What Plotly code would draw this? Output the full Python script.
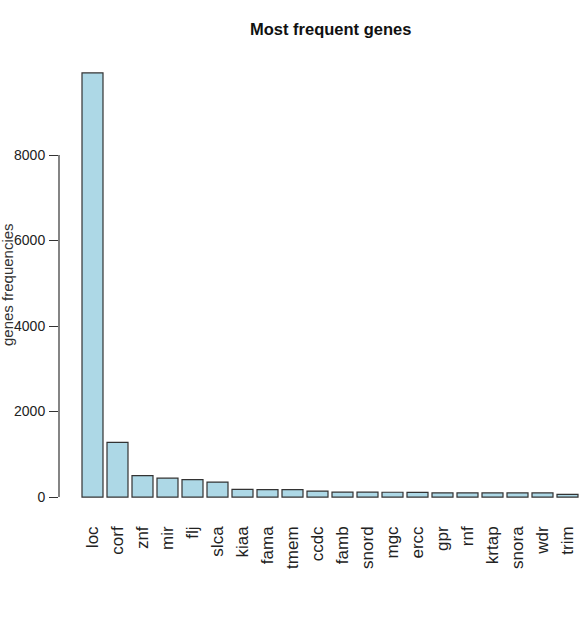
import plotly.graph_objects as go

genes = ["loc", "corf", "znf", "mir", "flj", "slca", "kiaa", "fama", "tmem", "ccdc",
         "famb", "snord", "mgc", "ercc", "gpr", "rnf", "krtap", "snora", "wdr", "trim"]
freqs = [9920, 1280, 500, 440, 405, 350, 180, 175, 175, 140,
         115, 115, 112, 110, 98, 97, 96, 95, 95, 62]
y_ticks = [0, 2000, 4000, 6000, 8000]

positions = list(range(len(genes)))

W, H = 587, 620
L, R, T, B = 59, 0, 56, 106

regular = "Liberation Sans, Arial, sans-serif"

fig = go.Figure()
fig.add_trace(go.Bar(
    x=positions, y=freqs, width=0.84,
    marker=dict(color="#ADD8E6", line=dict(color="#333333", width=1.2)),
))

fig.update_layout(
    width=W, height=H,
    margin=dict(l=L, r=R, t=T, b=B, pad=0),
    paper_bgcolor="white", plot_bgcolor="white",
    showlegend=False,
    xaxis=dict(
        range=[-1.34, 19.78], tickmode="array", tickvals=positions, ticktext=genes,
        tickangle=-90, showgrid=False, zeroline=False, showline=False,
        ticks="", ticklabelstandoff=8,
        tickfont=dict(family=regular, size=17, color="#222222"),
    ),
    yaxis=dict(
        range=[-397, 10317], tickmode="array", tickvals=y_ticks,
        ticktext=[str(v) for v in y_ticks],
        showgrid=False, zeroline=False, showline=False,
        ticks="outside", ticklen=9, tickwidth=1.2, tickcolor="#333333",
        ticklabelstandoff=1,
        tickfont=dict(family=regular, size=14, color="#222222"),
    ),
)

# y axis line only between first and last tick (R style)
fig.add_shape(type="line", xref="paper", yref="y", x0=0, x1=0,
              y0=y_ticks[0], y1=y_ticks[-1], line=dict(color="#333333", width=1.2))

plot_w = W - L - R
plot_h = H - T - B

fig.add_annotation(
    text="<b>Most frequent genes</b>", xref="paper", yref="paper",
    x=(330 - L) / plot_w, y=(H - B - 29) / plot_h,
    xanchor="center", yanchor="middle", showarrow=False,
    font=dict(family=regular, size=16.5, color="#111111"),
)
fig.add_annotation(
    text="genes frequencies", xref="paper", yref="paper",
    x=(7 - L) / plot_w, y=0.5, textangle=-90,
    xanchor="center", yanchor="middle", showarrow=False,
    font=dict(family=regular, size=15, color="#333333"),
)

fig.write_html("out.html")
